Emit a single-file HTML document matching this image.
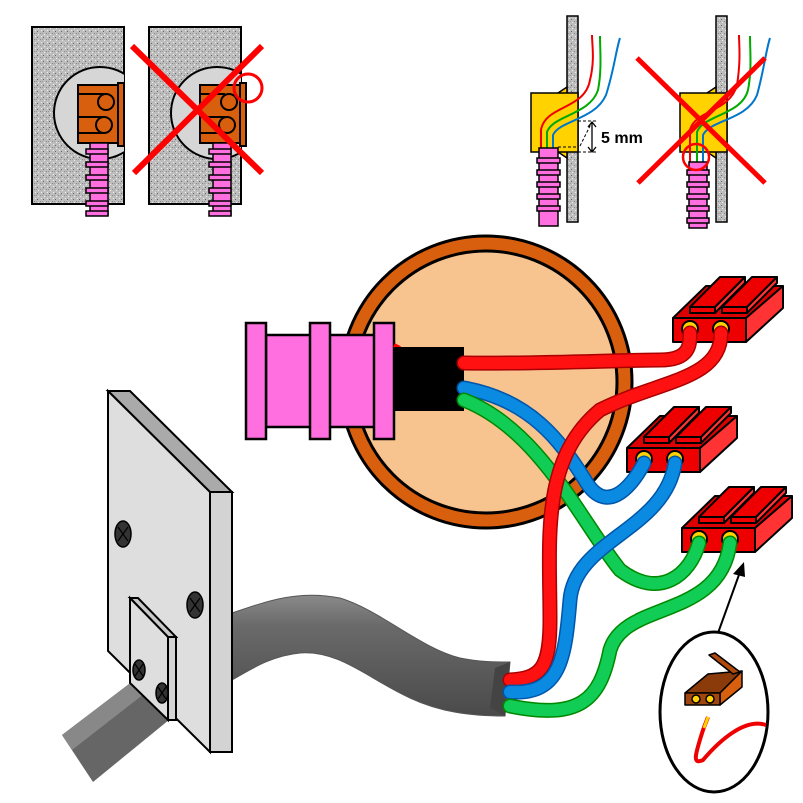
<!DOCTYPE html>
<html><head><meta charset="utf-8"><style>html,body{margin:0;padding:0;background:#fff}svg{display:block}</style></head><body>
<svg width="803" height="803" viewBox="0 0 803 803" xmlns="http://www.w3.org/2000/svg">
<defs>
<pattern id="spk" width="6" height="6" patternUnits="userSpaceOnUse">
<rect width="6" height="6" fill="#bdbdbd"/><rect x="1" y="1" width="1" height="1" fill="#666"/><rect x="4" y="3" width="1" height="1" fill="#888"/><rect x="2" y="4" width="1" height="1" fill="#eee"/><rect x="5" y="0" width="1" height="1" fill="#eee"/><rect x="0" y="3" width="1" height="1" fill="#999"/>
</pattern>
<clipPath id="c1"><rect x="32" y="27" width="92" height="177"/></clipPath>
<clipPath id="c2"><rect x="149" y="27" width="92" height="177"/></clipPath>
<linearGradient id="cab" x1="0" y1="0" x2="0" y2="1"><stop offset="0" stop-color="#8a8a8a"/><stop offset="0.25" stop-color="#6a6a6a"/><stop offset="1" stop-color="#4a4a4a"/></linearGradient>
</defs>

<!-- top-left panels -->
<g stroke="#000" stroke-width="2">
<rect x="32" y="27" width="92" height="177" fill="url(#spk)"/>
<circle cx="100" cy="113" r="46" fill="#d6d6d6" clip-path="url(#c1)"/>
<rect x="78" y="85" width="42" height="58" fill="#d85f0e"/>
<rect x="118" y="83" width="6" height="63" fill="#d85f0e"/>
<line x1="78" y1="94" x2="105" y2="94"/><line x1="78" y1="117" x2="105" y2="117"/><line x1="78" y1="133" x2="105" y2="133"/>
<circle cx="106" cy="102" r="8" fill="#d85f0e"/><circle cx="104" cy="125" r="8" fill="#d85f0e"/>
<rect x="149" y="27" width="92" height="177" fill="url(#spk)"/>
<circle cx="217" cy="113" r="46" fill="#d6d6d6" clip-path="url(#c2)"/>
<rect x="200" y="85" width="40" height="58" fill="#d85f0e"/>
<rect x="240" y="83" width="6" height="63" fill="#d85f0e"/>
<line x1="200" y1="94" x2="225" y2="94"/><line x1="200" y1="117" x2="225" y2="117"/><line x1="200" y1="133" x2="225" y2="133"/>
<circle cx="229" cy="102" r="8" fill="#d85f0e"/><circle cx="227" cy="125" r="8" fill="#d85f0e"/>
</g>
<g fill="#ff6fe0" stroke="#000" stroke-width="1.5">
<rect x="90" y="143" width="18" height="72"/>
<rect x="86" y="149" width="22" height="5"/><rect x="86" y="162" width="22" height="5"/><rect x="86" y="175" width="22" height="5"/><rect x="86" y="188" width="22" height="5"/><rect x="86" y="201" width="22" height="5"/><rect x="86" y="211" width="22" height="5"/>
<rect x="213" y="143" width="18" height="72"/>
<rect x="209" y="149" width="22" height="5"/><rect x="209" y="162" width="22" height="5"/><rect x="209" y="175" width="22" height="5"/><rect x="209" y="188" width="22" height="5"/><rect x="209" y="201" width="22" height="5"/><rect x="209" y="211" width="22" height="5"/>
</g>
<g stroke="#f00" stroke-width="6"><line x1="132" y1="46" x2="262" y2="173"/><line x1="262" y1="46" x2="134" y2="173"/></g>
<circle cx="248" cy="88" r="14" fill="none" stroke="#f00" stroke-width="3"/>

<!-- top-right panels -->
<g stroke="#000" stroke-width="1.5">
<rect x="567" y="16" width="11" height="206" fill="url(#spk)"/>
<polygon points="558,93 567,87 567,158 558,152" fill="#ffd200"/>
<rect x="531" y="93" width="47" height="59" fill="#ffd200"/>
<rect x="716" y="16" width="11" height="206" fill="url(#spk)"/>
<polygon points="707,93 716,87 716,158 707,152" fill="#ffd200"/>
<rect x="680" y="93" width="47" height="59" fill="#ffd200"/>
</g>
<g fill="none" stroke-width="2">
<path d="M541,148 L541,130 C545,105 585,110 590,80 C595,60 592,45 592,35" stroke="#e00"/>
<path d="M547,148 L547,132 C553,115 590,115 598,90 C602,70 600,50 600,36" stroke="#0a0"/>
<path d="M553,148 L553,135 C560,120 595,120 606,95 C614,70 616,50 620,38" stroke="#07c"/>
<path d="M690,162 L690,130 C695,110 730,112 737,85 C741,60 739,45 739,35" stroke="#e00"/>
<path d="M697,162 L697,132 C703,115 742,115 748,90 C752,70 750,50 750,36" stroke="#0a0"/>
<path d="M703,162 L703,135 C710,120 747,120 757,95 C764,70 766,50 770,38" stroke="#07c"/>
</g>
<g fill="#ff6fe0" stroke="#000" stroke-width="1.5">
<rect x="539" y="148" width="19" height="78"/>
<rect x="537" y="158" width="23" height="5"/><rect x="537" y="170" width="23" height="5"/><rect x="537" y="182" width="23" height="5"/><rect x="537" y="194" width="23" height="5"/><rect x="537" y="206" width="23" height="5"/>
<rect x="689" y="162" width="18" height="66"/>
<rect x="687" y="170" width="22" height="5"/><rect x="687" y="182" width="22" height="5"/><rect x="687" y="194" width="22" height="5"/><rect x="687" y="206" width="22" height="5"/><rect x="687" y="218" width="22" height="5"/>
</g>
<g stroke="#000" stroke-width="1" stroke-dasharray="3,2" fill="none"><line x1="558" y1="147" x2="578" y2="147"/><line x1="578" y1="152" x2="598" y2="152"/><line x1="580" y1="146" x2="592" y2="122"/><line x1="578" y1="121" x2="598" y2="121"/></g>
<path d="M592,122 L592,152 M588,127 L592,122 L596,127 M588,147 L592,152 L596,147" stroke="#000" stroke-width="1.3" fill="none"/>
<text x="601" y="143" font-family="Liberation Sans, sans-serif" font-weight="bold" font-size="16">5 mm</text>
<g stroke="#f00" stroke-width="5"><line x1="637" y1="58" x2="765" y2="183"/><line x1="765" y1="58" x2="638" y2="183"/></g>
<circle cx="696" cy="157" r="13" fill="none" stroke="#f00" stroke-width="2.5"/>

<!-- box -->
<circle cx="486" cy="382" r="146" fill="#d85f0e" stroke="#000" stroke-width="3"/>
<circle cx="486" cy="382" r="131" fill="#f7c490" stroke="#000" stroke-width="3"/>
<g fill="#ff6fe0" stroke="#000" stroke-width="2.5">
<rect x="266" y="335" width="112" height="92"/>
<rect x="246" y="323" width="20" height="116"/><rect x="310" y="323" width="20" height="116"/><rect x="374" y="323" width="20" height="116"/>
</g>
<path d="M394,345 L400,348" stroke="#f00" stroke-width="4"/>
<rect x="395" y="347" width="69" height="64" fill="#000"/>

<!-- cable -->
<path d="M232,613 C270,600 300,590 340,598 C380,610 420,648 460,658 C480,662 495,662 510,662 L505,716 C470,716 440,712 410,698 C370,680 340,650 300,653 C270,656 250,670 232,680 Z" fill="url(#cab)" stroke="#555" stroke-width="1"/>
<polygon points="495,668 510,662 505,716 490,708" fill="#444"/>
<polygon points="62,735 150,668 175,715 93,782" fill="#666"/>
<polygon points="62,735 150,668 158,683 72,750" fill="#888"/>

<!-- switch plate -->
<g stroke="#000" stroke-width="2">
<polygon points="108,391 130,391 232,492 210,492" fill="#aaa"/>
<polygon points="210,492 232,492 232,752 210,752" fill="#d3d3d3"/>
<polygon points="108,391 210,492 210,752 108,651" fill="#dedede"/>
<polygon points="130,598 138,598 176,637 168,637" fill="#c8c8c8"/>
<polygon points="168,637 176,637 176,720 168,720" fill="#d3d3d3"/>
<polygon points="130,598 168,637 168,720 130,683" fill="#dedede"/>
</g>
<g fill="#333" stroke="#000" stroke-width="1.5">
<ellipse cx="123" cy="534" rx="8" ry="13"/><ellipse cx="195" cy="605" rx="8" ry="13"/><ellipse cx="139" cy="670" rx="6" ry="10"/><ellipse cx="162" cy="693" rx="6" ry="10"/>
</g>
<g stroke="#000" stroke-width="1.2"><path d="M118,527 L128,541 M128,527 L118,541 M190,598 L200,612 M200,598 L190,612 M135,664 L143,676 M143,664 L135,676 M158,687 L166,699 M166,687 L158,699"/></g>

<!-- connectors -->
<g id="cn" stroke="#000" stroke-width="2" stroke-linejoin="round">
<polygon points="673,318 706,286 783,286 746,318" fill="#d00"/>
<polygon points="746,318 783,286 783,308 746,342" fill="#f33"/>
<rect x="673" y="318" width="73" height="24" fill="#e00"/>
<polygon points="690,307 720,277 745,277 715,307" fill="#e00"/>
<polygon points="715,307 745,277 745,283 715,313" fill="#f33"/>
<rect x="690" y="307" width="25" height="6" fill="#e00"/>
<polygon points="722,307 752,277 777,277 747,307" fill="#e00"/>
<polygon points="747,307 777,277 777,283 747,313" fill="#f33"/>
<rect x="722" y="307" width="25" height="6" fill="#e00"/>
<circle cx="690" cy="329" r="8" fill="#ffd200"/>
<circle cx="721" cy="329" r="8" fill="#ffd200"/>
</g>
<use href="#cn" transform="translate(-46,130)"/>
<use href="#cn" transform="translate(9,210)"/>

<!-- wires -->
<g fill="none" stroke-linecap="round">
<path d="M464,363 C540,364 620,360 660,360 C690,360 690,345 690,333" stroke="#a00" stroke-width="15"/>
<path d="M464,363 C540,364 620,360 660,360 C690,360 690,345 690,333" stroke="#f11" stroke-width="12"/>
<path d="M464,388 C530,400 560,440 585,480 C605,515 630,490 644,463" stroke="#05a" stroke-width="15"/>
<path d="M464,388 C530,400 560,440 585,480 C605,515 630,490 644,463" stroke="#0a8ae0" stroke-width="12"/>
<path d="M464,400 C540,430 580,520 620,570 C660,600 690,575 699,543" stroke="#080" stroke-width="15"/>
<path d="M464,400 C540,430 580,520 620,570 C660,600 690,575 699,543" stroke="#11cc55" stroke-width="12"/>
<path d="M510,680 C540,678 550,670 550,620 C550,540 540,460 600,410 C660,380 721,380 721,333" stroke="#a00" stroke-width="15"/>
<path d="M510,680 C540,678 550,670 550,620 C550,540 540,460 600,410 C660,380 721,380 721,333" stroke="#f11" stroke-width="12"/>
<path d="M510,692 C560,695 565,660 570,600 C575,540 665,530 675,463" stroke="#05a" stroke-width="15"/>
<path d="M510,692 C560,695 565,660 570,600 C575,540 665,530 675,463" stroke="#0a8ae0" stroke-width="12"/>
<path d="M510,706 C580,720 600,700 610,650 C625,600 720,620 730,543" stroke="#080" stroke-width="15"/>
<path d="M510,706 C580,720 600,700 610,650 C625,600 720,620 730,543" stroke="#11cc55" stroke-width="12"/>
</g>

<!-- inset -->
<line x1="718" y1="633" x2="740" y2="572" stroke="#000" stroke-width="2"/>
<polygon points="744,562 733,574 745,577" fill="#000"/>
<ellipse cx="714" cy="712" rx="54" ry="80" fill="#fff" stroke="#000" stroke-width="3"/>
<g stroke="#000" stroke-width="1.5" stroke-linejoin="round">
<polygon points="685,693 708,674 742,671 720,693" fill="#8b3a0a"/>
<polygon points="720,693 742,671 742,687 720,705" fill="#d85f0e"/>
<rect x="685" y="693" width="35" height="12" fill="#a0460e"/>
<polygon points="709,655 715,653 740,672 733,674" fill="#b04a0c"/>
<circle cx="696" cy="699" r="4" fill="#ffd200"/><circle cx="710" cy="699" r="4" fill="#ffd200"/>
</g>
<path d="M708,717 L703,730 C695,755 692,765 703,760 C720,740 745,718 766,725" fill="none" stroke="#e00" stroke-width="4"/>
<path d="M708,717 L704,728" stroke="#ffd200" stroke-width="3"/>
</svg>
</body></html>
